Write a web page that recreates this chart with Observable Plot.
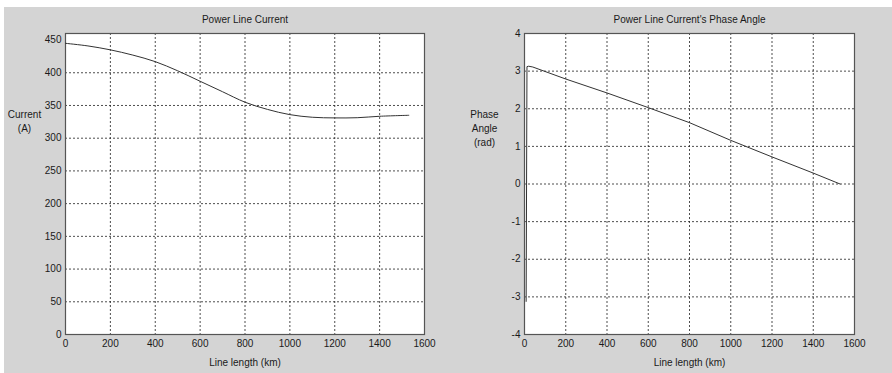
<!DOCTYPE html>
<html>
<head>
<meta charset="utf-8">
<script src="https://cdn.jsdelivr.net/npm/d3@7"></script>
<script src="https://cdn.jsdelivr.net/npm/@observablehq/plot@0.6"></script>
<style>
  body { margin: 0; background: #fff; }
  #wrap { position: relative; width: 892px; height: 373px; background: #fff; overflow: hidden; }
  #fig { position: absolute; left: 4px; top: 7px; width: 888px; height: 366px; background: #d4d4d4; }
  #left, #right { position: absolute; top: 0; }
  #left { left: 0; }
  #right { left: 446px; }
</style>
</head>
<body>
<div id="wrap"><div id="fig"></div><div id="left"></div><div id="right"></div></div>
<script>
// Left chart: current magnitude along the line
const lengthKm = [0, 100, 200, 300, 400, 500, 600, 700, 800, 900, 1000, 1100, 1200, 1300, 1400, 1530];
const currentA = [445, 441, 435, 427, 417, 403, 387, 371, 355, 344, 336, 332, 331, 331.3, 333.5, 335];

// Right chart: phase angle along the line
const phaseKm = [8, 12, 20, 40, 200, 400, 600, 800, 1000, 1200, 1400, 1530];
const phaseRad = [-3.12, 3.12, 3.13, 3.11, 2.79, 2.42, 2.03, 1.63, 1.16, 0.72, 0.29, 0.0];

const xTicks = [0, 200, 400, 600, 800, 1000, 1200, 1400, 1600];
const currentTicks = [0, 50, 100, 150, 200, 250, 300, 350, 400, 450];
const phaseTicks = [-4, -3, -2, -1, 0, 1, 2, 3, 4];

const titles = ["Power Line Current", "Power Line Current's Phase Angle"];
const xLabel = "Line length (km)";
const yLabels = ["Current\n(A)", "Phase\nAngle\n(rad)"];

const currentData = lengthKm.map((x, i) => ({x, y: currentA[i]}));
const phaseData = phaseKm.map((x, i) => ({x, y: phaseRad[i]}));

const fmt = d => String(d);

const common = {
  style: {fontFamily: "'Liberation Sans', Arial, sans-serif", fontSize: "10px", color: "#1a1a1a", background: "transparent", maxWidth: "none"}
};

function makeChart({data, curve, yDomain, yTicks, title, yLabel, marginLeft, marginRight, yLabelDx, yLabelDy}) {
  return Plot.plot({
    ...common,
    width: 446,
    height: 373,
    marginLeft, marginRight,
    marginTop: 33,
    marginBottom: 39,
    x: {domain: [0, 1600], label: null},
    y: {domain: yDomain, label: null},
    marks: [
      Plot.frame({fill: "#fff", stroke: null}),
      Plot.gridX(xTicks.slice(1, -1), {stroke: "#222", strokeOpacity: 0.8, strokeDasharray: "2,2"}),
      Plot.gridY(yTicks.slice(1, -1), {stroke: "#222", strokeOpacity: 0.8, strokeDasharray: "2,2"}),
      Plot.frame({stroke: "#555", strokeWidth: 1.2}),
      Plot.axisX(xTicks, {tickSize: 0, tickPadding: 5, label: null, tickFormat: fmt}),
      Plot.axisY(yTicks, {tickSize: 0, tickPadding: 4, label: null, tickFormat: fmt}),
      Plot.line(data, {x: "x", y: "y", stroke: "#333", strokeWidth: 1, curve}),
      Plot.text([title], {frameAnchor: "top", lineAnchor: "middle", dy: -14, fontSize: 10, fill: "#1a1a1a"}),
      Plot.text([xLabel], {frameAnchor: "bottom", lineAnchor: "middle", dy: 28, fontSize: 10, fill: "#1a1a1a"}),
      Plot.text([yLabel], {frameAnchor: "top-left", lineAnchor: "middle", dx: yLabelDx, dy: yLabelDy, fontSize: 10, fill: "#1a1a1a", lineHeight: 1.4, textAnchor: "middle"})
    ]
  });
}

document.getElementById("left").append(makeChart({
  data: currentData, curve: "catmull-rom", yDomain: [0, 460], yTicks: currentTicks, title: titles[0], yLabel: yLabels[0],
  marginLeft: 65, marginRight: 22, yLabelDx: -41, yLabelDy: 87
}));
document.getElementById("right").append(makeChart({
  data: phaseData, curve: "linear", yDomain: [-4, 4], yTicks: phaseTicks, title: titles[1], yLabel: yLabels[1],
  marginLeft: 78, marginRight: 38, yLabelDx: -40, yLabelDy: 94
}));
</script>
</body>
</html>
